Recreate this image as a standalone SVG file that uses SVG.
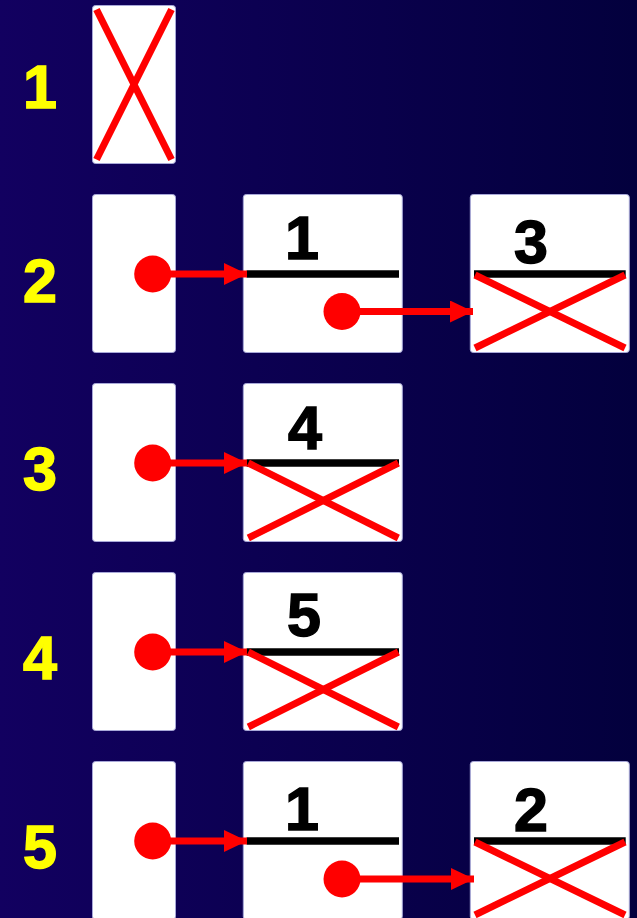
<svg xmlns="http://www.w3.org/2000/svg" width="637" height="918" viewBox="0 0 637 918">
<defs>
<linearGradient id="bg" x1="0" y1="0" x2="1" y2="0">
<stop offset="0" stop-color="#120060"/>
<stop offset="1" stop-color="#03003d"/>
</linearGradient>
<marker id="ah" markerWidth="23" markerHeight="22" refX="23" refY="11" orient="auto" markerUnits="userSpaceOnUse">
<path d="M0,0 L23,11 L0,22 Z" fill="#ff0000"/>
</marker>
<style>
.box{fill:#ffffff;stroke:#a8a8d8;stroke-width:1}
.lbl{font-family:"Liberation Sans",Arial,sans-serif;font-weight:bold;font-size:61px;fill:#ffff00;stroke:#ffff00;stroke-width:1.5;text-anchor:middle}
.num{font-family:"Liberation Sans",Arial,sans-serif;font-weight:bold;font-size:61px;fill:#000000;stroke:#000000;stroke-width:1.5;text-anchor:middle}
.bar{stroke:#000000;stroke-width:7.5}
.x{stroke:#ff0000;stroke-width:7;fill:none}
.dot{fill:#ff0000}
.ptr{stroke:#ff0000;stroke-width:7;fill:none}
</style>
</defs>
<rect x="0" y="0" width="637" height="918" fill="url(#bg)"/>

<g id="labels">
<text class="lbl" x="40" y="108">1</text>
<text class="lbl" x="40" y="302">2</text>
<text class="lbl" x="40" y="490">3</text>
<text class="lbl" x="40" y="679">4</text>
<text class="lbl" x="40" y="868">5</text>
</g>

<g id="row1-head">
<rect class="box" x="92.5" y="5.5" width="83" height="158" rx="3"/>
<line class="x" x1="96.5" y1="9.5" x2="171.5" y2="159.5"/>
<line class="x" x1="171.5" y1="9.5" x2="96.5" y2="159.5"/>
</g>

<g id="row2-head">
<rect class="box" x="92.5" y="194.5" width="83" height="158" rx="3"/>
<circle class="dot" cx="152.7" cy="274" r="18.5"/>
</g>
<g id="row2-node1">
<rect class="box" x="243.3" y="194.5" width="159" height="158" rx="3"/>
<text class="num" x="302" y="259">1</text>
<line class="bar" x1="246.7" y1="274" x2="399" y2="274"/>
<circle class="dot" cx="342" cy="311.5" r="18.5"/>
</g>
<g id="row2-node3">
<rect class="box" x="470.3" y="194.5" width="159" height="158" rx="3"/>
<text class="num" x="531" y="263">3</text>
<line class="bar" x1="474" y1="274" x2="625.7" y2="274"/>
<line class="x" x1="475" y1="275" x2="625" y2="348"/>
<line class="x" x1="475" y1="348" x2="625" y2="275"/>
</g>

<g id="row3-head">
<rect class="box" x="92.5" y="383.5" width="83" height="158" rx="3"/>
<circle class="dot" cx="152.7" cy="463" r="18.5"/>
</g>
<g id="row3-node4">
<rect class="box" x="243.3" y="383.5" width="159" height="158" rx="3"/>
<text class="num" x="305" y="449">4</text>
<line class="bar" x1="246.7" y1="463" x2="399" y2="463"/>
<line class="x" x1="248.3" y1="463" x2="398.3" y2="538"/>
<line class="x" x1="248.3" y1="538" x2="398.3" y2="463"/>
</g>

<g id="row4-head">
<rect class="box" x="92.5" y="572.5" width="83" height="158" rx="3"/>
<circle class="dot" cx="152.7" cy="652" r="18.5"/>
</g>
<g id="row4-node5">
<rect class="box" x="243.3" y="572.5" width="159" height="158" rx="3"/>
<text class="num" x="304" y="636">5</text>
<line class="bar" x1="246.7" y1="652" x2="399" y2="652"/>
<line class="x" x1="248.3" y1="652" x2="398.3" y2="727"/>
<line class="x" x1="248.3" y1="727" x2="398.3" y2="652"/>
</g>

<g id="row5-head">
<rect class="box" x="92.5" y="761.5" width="83" height="158" rx="3"/>
<circle class="dot" cx="152.7" cy="841" r="18.5"/>
</g>
<g id="row5-node1">
<rect class="box" x="243.3" y="761.5" width="159" height="158" rx="3"/>
<text class="num" x="302" y="830">1</text>
<line class="bar" x1="246.7" y1="841" x2="399" y2="841"/>
<circle class="dot" cx="342" cy="879" r="18.5"/>
</g>
<g id="row5-node2">
<rect class="box" x="470.3" y="761.5" width="159" height="158" rx="3"/>
<text class="num" x="531" y="831">2</text>
<line class="bar" x1="474" y1="841" x2="625.7" y2="841"/>
<line class="x" x1="475" y1="842" x2="625" y2="915"/>
<line class="x" x1="475" y1="915" x2="625" y2="842"/>
</g>

<g id="connectors">
<line class="ptr" x1="165" y1="274" x2="247" y2="274" marker-end="url(#ah)"/>
<line class="ptr" x1="355" y1="311.5" x2="473" y2="311.5" marker-end="url(#ah)"/>
<line class="ptr" x1="165" y1="463" x2="247" y2="463" marker-end="url(#ah)"/>
<line class="ptr" x1="165" y1="652" x2="247" y2="652" marker-end="url(#ah)"/>
<line class="ptr" x1="165" y1="841" x2="247" y2="841" marker-end="url(#ah)"/>
<line class="ptr" x1="355" y1="879" x2="474" y2="879" marker-end="url(#ah)"/>
</g>
</svg>
